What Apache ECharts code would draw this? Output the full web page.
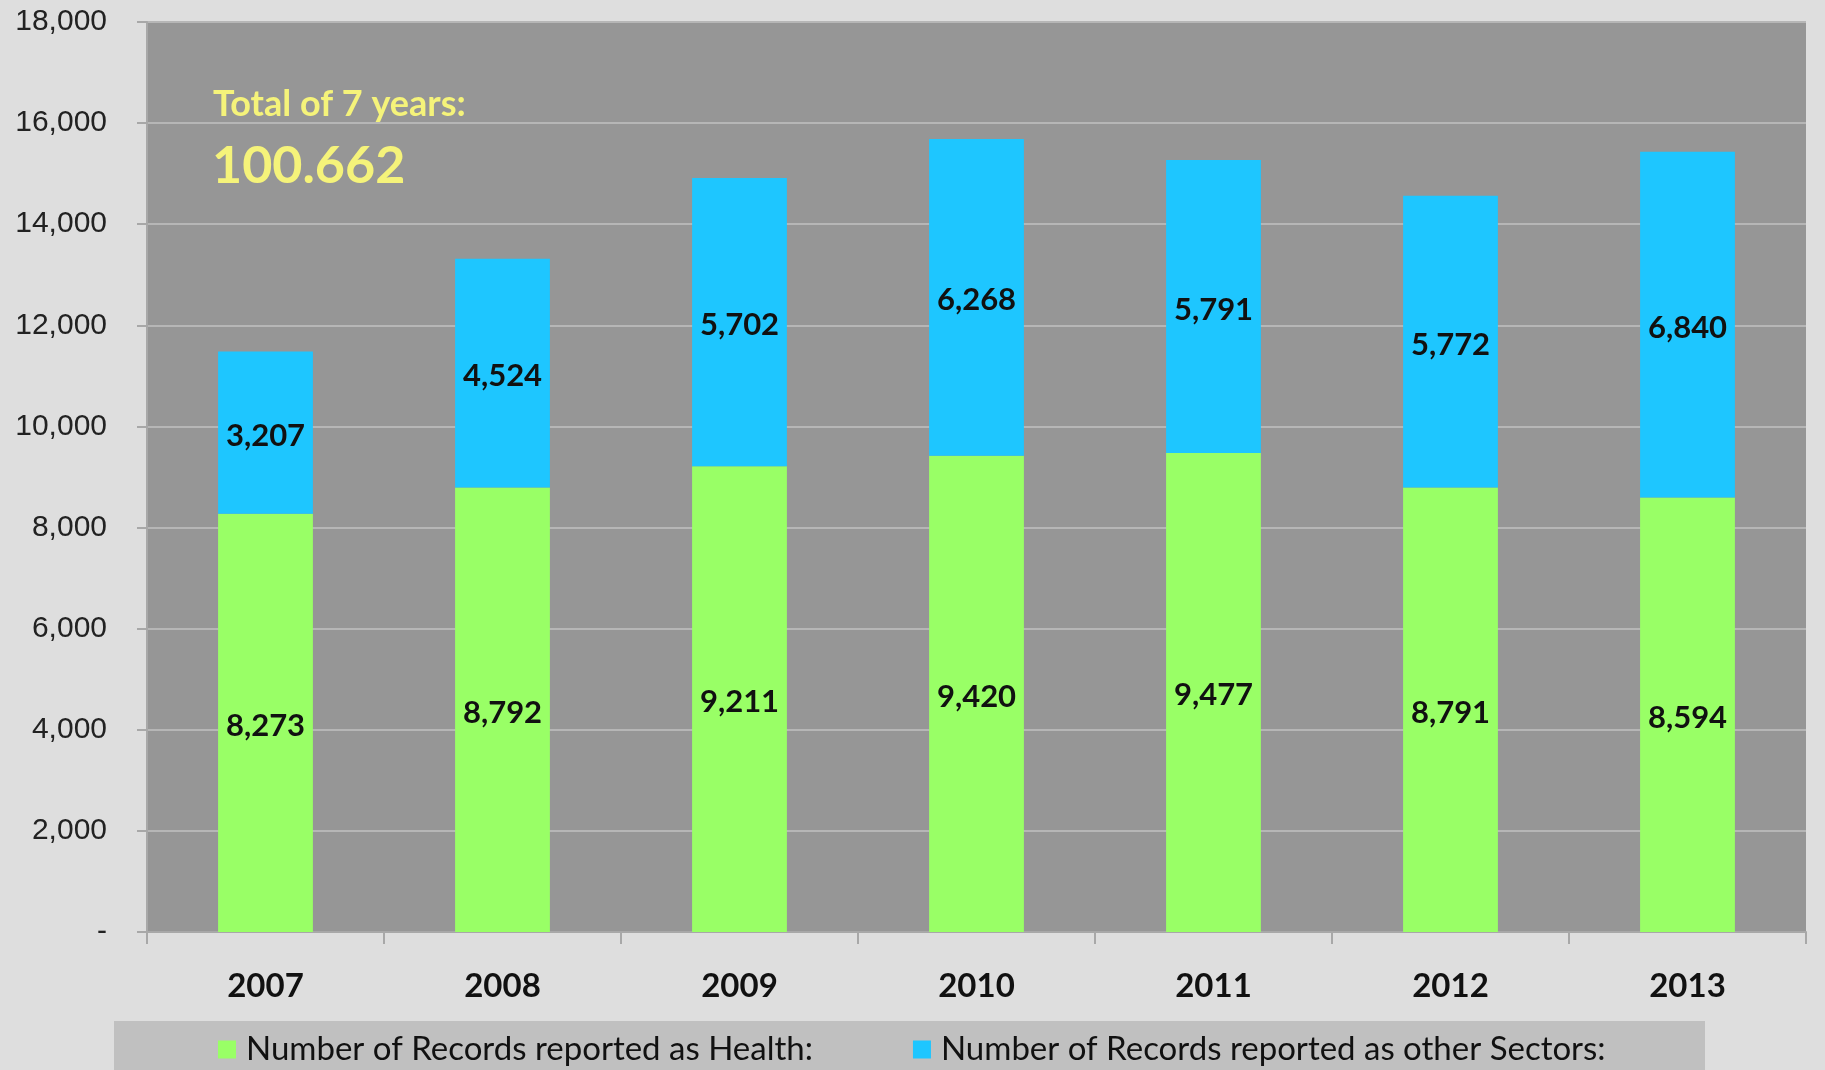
<!DOCTYPE html>
<html>
<head>
<meta charset="utf-8">
<script src="https://cdn.jsdelivr.net/npm/echarts@6/dist/echarts.min.js"></script>
<style>
html,body{margin:0;padding:0;background:#dedede;}
#chart{width:1825px;height:1070px;}
</style>
</head>
<body>
<div id="chart"></div>
<script>
const years = ['2007','2008','2009','2010','2011','2012','2013'];
const health = [8273, 8792, 9211, 9420, 9477, 8791, 8594];
const otherSectors = [3207, 4524, 5702, 6268, 5791, 5772, 6840];
const yTicks = [0, 2000, 4000, 6000, 8000, 10000, 12000, 14000, 16000, 18000];
const seriesNames = ['Number of Records reported as Health:', 'Number of Records reported as other Sectors:'];
const totalLabel = 'Total of 7 years:';

const total = health.reduce((a,b)=>a+b,0) + otherSectors.reduce((a,b)=>a+b,0);
const totalText = total.toLocaleString('en-US').replace(/,/g, '.');
const fmt = v => v === 0 ? '-' : v.toLocaleString('en-US');

const chart = echarts.init(document.getElementById('chart'));
const barLabel = {show: true, position: 'inside', offset: [0, 3], fontFamily: 'Lato', fontWeight: 'bold', fontSize: 31, color: '#111', formatter: p => fmt(p.value)};
chart.setOption({
  backgroundColor: '#dedede',
  animation: false,
  grid: {left: 147, right: 19, top: 22, bottom: 138, show: true, backgroundColor: '#969696', borderWidth: 0},
  graphic: [
    {type: 'rect', left: 114, top: 1021, shape: {width: 1591, height: 60}, style: {fill: '#c0c0c0'}, z: -1},
    {type: 'text', left: 213, top: 86, style: {text: totalLabel, fill: '#f5f37a', font: 'bold 36px Lato'}, z: 10},
    {type: 'text', left: 212, top: 140, style: {text: totalText, fill: '#f5f37a', font: 'bold 52px Lato'}, z: 10}
  ],
  legend: {
    left: 213, top: 1028, itemWidth: 18, itemHeight: 18, itemGap: 100,
    icon: 'rect',
    textStyle: {fontFamily: 'Lato', fontSize: 33, color: '#111', padding: [0,0,0,5]},
    data: seriesNames
  },
  xAxis: {
    type: 'category', data: years, boundaryGap: true,
    axisLine: {show: true, lineStyle: {color: '#a8a8a8', width: 2}},
    axisTick: {show: true, length: 12, lineStyle: {color: '#a8a8a8', width: 2}},
    axisLabel: {fontFamily: 'Lato', fontWeight: 'bold', fontSize: 33, color: '#111', margin: 38}
  },
  yAxis: {
    type: 'value', min: 0, max: 18000, interval: 2000,
    axisLine: {show: true, lineStyle: {color: '#a8a8a8', width: 2}},
    axisTick: {show: true, length: 10, lineStyle: {color: '#a8a8a8', width: 2}},
    splitLine: {lineStyle: {color: '#b6b6b6', width: 2}},
    axisLabel: {fontFamily: 'Liberation Sans', fontSize: 30, color: '#222', margin: 40, formatter: fmt}
  },
  series: [
    {name: seriesNames[0], type: 'bar', stack: 'total', data: health, barWidth: '40%', itemStyle: {color: '#99ff66'}, label: barLabel},
    {name: seriesNames[1], type: 'bar', stack: 'total', data: otherSectors, barWidth: '40%', itemStyle: {color: '#1ec6ff'}, label: barLabel}
  ]
});
</script>
</body>
</html>
